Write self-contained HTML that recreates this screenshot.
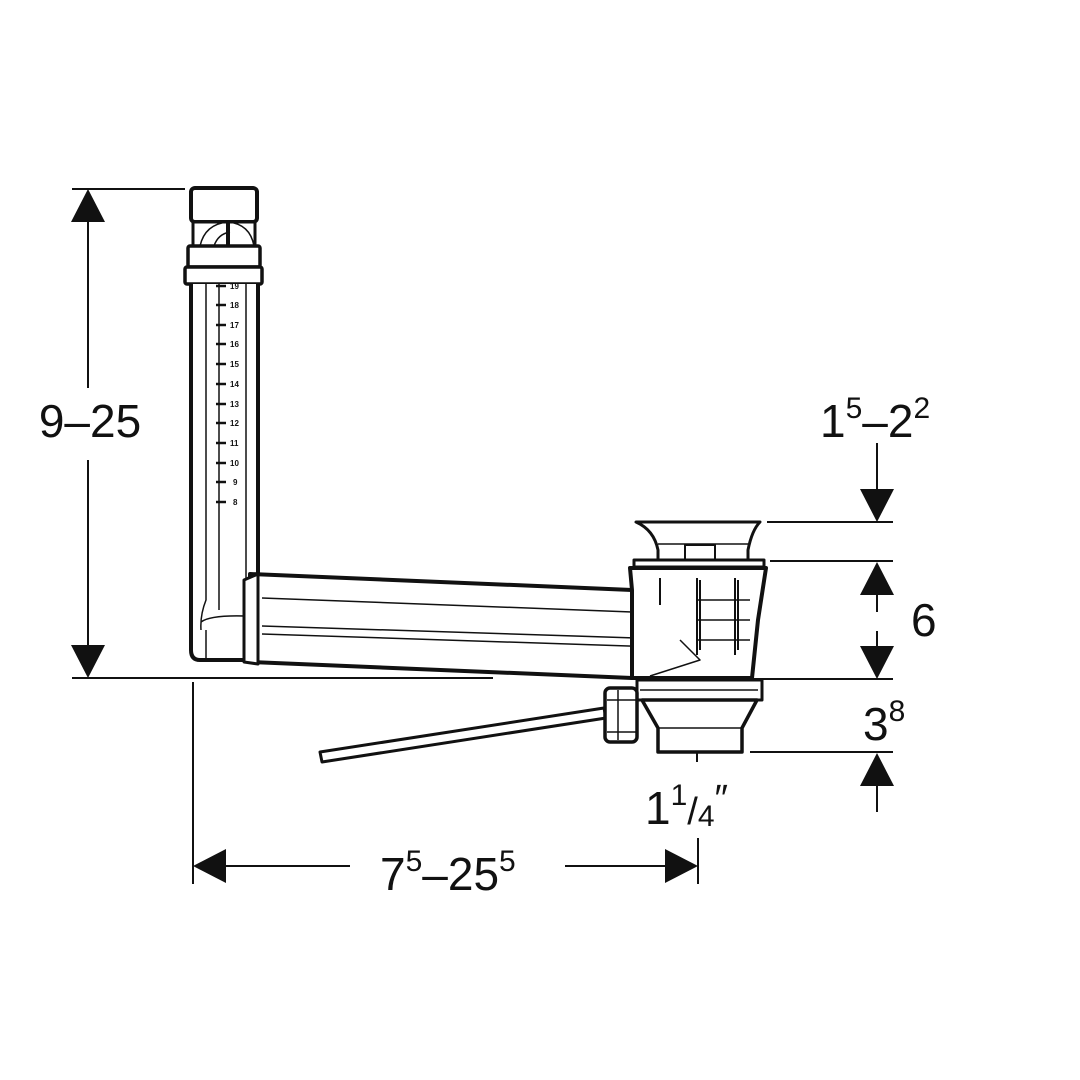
<!DOCTYPE html>
<html><head><style>html,body{margin:0;padding:0;background:#fff}svg{display:block}text{font-family:"Liberation Sans",sans-serif;fill:#111}</style></head>
<body>
<svg width="1080" height="1080" viewBox="0 0 1080 1080" xmlns="http://www.w3.org/2000/svg">
<g stroke="#111" stroke-width="2" fill="none">
<line x1="72" y1="189" x2="185" y2="189"/>
<line x1="72" y1="678" x2="493" y2="678"/>
<line x1="88" y1="220" x2="88" y2="388"/>
<line x1="88" y1="460" x2="88" y2="648"/>
<line x1="193" y1="682" x2="193" y2="884"/>
<line x1="698" y1="838" x2="698" y2="884"/>
<line x1="222" y1="866" x2="350" y2="866"/>
<line x1="565" y1="866" x2="668" y2="866"/>
<line x1="767" y1="522" x2="893" y2="522"/>
<line x1="770" y1="561" x2="893" y2="561"/>
<line x1="750" y1="679" x2="893" y2="679"/>
<line x1="750" y1="752" x2="893" y2="752"/>
<line x1="877" y1="443" x2="877" y2="492"/>
<line x1="877" y1="595" x2="877" y2="612"/>
<line x1="877" y1="631" x2="877" y2="647"/>
<line x1="877" y1="786" x2="877" y2="812"/>
</g>
<g fill="#111">
<polygon points="88,189 71,222 105,222"/>
<polygon points="88,678 71,645 105,645"/>
<polygon points="193,866 226,849 226,883"/>
<polygon points="698,866 665,849 665,883"/>
<polygon points="877,522 860,489 894,489"/>
<polygon points="877,562 860,595 894,595"/>
<polygon points="877,679 860,646 894,646"/>
<polygon points="877,753 860,786 894,786"/>
</g>
<text x="90" y="437" font-size="46" text-anchor="middle">9–25</text>
<text x="380" y="890" font-size="46">7<tspan font-size="30" dy="-19">5</tspan><tspan dy="19">–25</tspan><tspan font-size="30" dy="-19">5</tspan></text>
<text x="820" y="437" font-size="46">1<tspan font-size="30" dy="-19">5</tspan><tspan dy="19">–2</tspan><tspan font-size="30" dy="-19">2</tspan></text>
<text x="911" y="636" font-size="46">6</text>
<text x="863" y="740" font-size="46">3<tspan font-size="30" dy="-19">8</tspan></text>
<text x="645" y="824" font-size="46">1<tspan font-size="30" dy="-19">1</tspan><tspan dy="19" font-size="38">/</tspan><tspan font-size="30" dy="2">4</tspan><tspan font-size="38" dy="-15">″</tspan></text>

<g stroke="#111" fill="#fff" stroke-linejoin="round">
<rect x="191" y="188" width="66" height="34" rx="4" stroke-width="4"/>
<rect x="193" y="222" width="62" height="24" stroke-width="3"/>
<path d="M200 246 Q205 224 228 222 Q250 224 254 246 M214 246 Q218 234 230 232" stroke-width="1.5" fill="none"/>
<line x1="228" y1="222" x2="228" y2="246" stroke-width="4"/>
<rect x="188" y="246" width="72" height="21" rx="2" stroke-width="3.5"/>
<rect x="185" y="267" width="77" height="17" rx="2" stroke-width="3.5"/>
<path d="M191 284 L191 650 Q191 660 200 660 L248 660 L258 650 L258 284" stroke-width="4"/>
<path d="M206 284 L206 600 Q200 615 201 630 M219 284 L219 610 M246 284 L246 600" stroke-width="1.5" fill="none"/>
<path d="M201 622 Q210 615 245 616 M206 630 L206 658" stroke-width="1.5" fill="none"/>
</g>
<g font-size="8" font-weight="bold">
<text x="230" y="289">19</text><text x="230" y="308">18</text><text x="230" y="328">17</text><text x="230" y="347">16</text><text x="230" y="367">15</text><text x="230" y="387">14</text><text x="230" y="407">13</text><text x="230" y="426">12</text><text x="230" y="446">11</text><text x="230" y="466">10</text><text x="233" y="485">9</text><text x="233" y="505">8</text>
</g>
<g stroke="#111" stroke-width="2.5">
<line x1="216" y1="286" x2="226" y2="286"/><line x1="216" y1="305" x2="226" y2="305"/><line x1="216" y1="325" x2="226" y2="325"/><line x1="216" y1="344" x2="226" y2="344"/><line x1="216" y1="364" x2="226" y2="364"/><line x1="216" y1="384" x2="226" y2="384"/><line x1="216" y1="404" x2="226" y2="404"/><line x1="216" y1="423" x2="226" y2="423"/><line x1="216" y1="443" x2="226" y2="443"/><line x1="216" y1="463" x2="226" y2="463"/><line x1="216" y1="482" x2="226" y2="482"/><line x1="216" y1="502" x2="226" y2="502"/>
</g>
<g stroke="#111" fill="#fff" stroke-linejoin="round">
<path d="M250 574 L632 590 L632 678 L250 662 Z" stroke-width="4"/>
<path d="M244 580 L258 574 L258 664 L244 662 Z" stroke-width="3"/>
<path d="M262 598 L632 612 M262 626 L700 640 M262 634 L690 648" stroke-width="1.5" fill="none"/>
</g>
<g stroke="#111" fill="#fff" stroke-linejoin="round">
<path d="M636 522 L760 522 Q752 530 748 550 L748 560 L658 560 L658 550 Q654 530 636 522 Z" stroke-width="3"/>
<line x1="658" y1="544" x2="748" y2="544" stroke-width="1.5"/>
<rect x="685" y="545" width="30" height="15" stroke-width="2"/>
<rect x="634" y="560" width="130" height="7" stroke-width="3"/>
<path d="M630 568 L766 568 L758 620 L752 678 L632 678 L632 590 Z" stroke-width="4"/>
<path d="M660 578 L660 605 M697 578 L697 655 M735 578 L735 655 M700 580 L700 650 M738 580 L738 650" stroke-width="2" fill="none"/>
<path d="M698 600 L750 600 M698 620 L750 620 M698 640 L750 640 M680 640 L700 660 L650 676" stroke-width="1.5" fill="none"/>
<rect x="637" y="680" width="125" height="20" stroke-width="3"/>
<line x1="640" y1="690" x2="758" y2="690" stroke-width="1.5"/>
<path d="M642 700 L757 700 L742 728 L742 752 L658 752 L658 728 Z" stroke-width="3.5"/>
<line x1="658" y1="728" x2="742" y2="728" stroke-width="1.5"/>
<path d="M320 752 L604 708 L606 718 L322 762 Z" stroke-width="3"/>
<rect x="605" y="688" width="32" height="54" rx="5" stroke-width="3.5"/>
<path d="M618 690 L618 740 M607 700 L637 700 M607 732 L637 732" stroke-width="1.5" fill="none"/>
</g>
<line x1="697" y1="752" x2="697" y2="762" stroke="#111" stroke-width="2"/>
</svg>
</body></html>
